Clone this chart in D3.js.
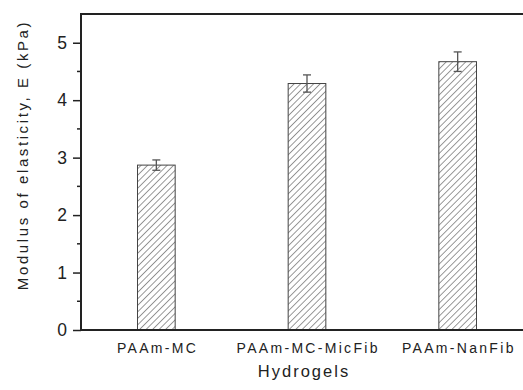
<!DOCTYPE html>
<html><head><meta charset="utf-8">
<script src="https://cdn.jsdelivr.net/npm/d3@7"></script>
<style>html,body{margin:0;padding:0;background:#fff;}svg{display:block;}</style>
</head><body>
<svg id="c" width="523" height="390"></svg>
<script>
const categories = ["PAAm-MC", "PAAm-MC-MicFib", "PAAm-NanFib"];
const values = [2.87, 4.29, 4.67];
const errors = [0.09, 0.15, 0.17];
const yTicks = [0, 1, 2, 3, 4, 5];
const yMinorTicks = [0.5, 1.5, 2.5, 3.5, 4.5];
const yLabel = "Modulus of elasticity, E (kPa)";
const xLabel = "Hydrogels";

(function () {
const svg = d3.select("#c");
const mLeft = 81, mTop = 14, mBottom = 330, mRight = 533;
const font = "Arial, 'Liberation Sans', sans-serif";
const x = d3.scaleBand().domain(categories).range([mLeft, mRight]).paddingInner(0.75).paddingOuter(0.375);
const y = d3.scaleLinear().domain([0, 5.5]).range([mBottom, mTop]);

const defs = svg.append("defs");
const pat = defs.append("pattern").attr("id", "hatch").attr("patternUnits", "userSpaceOnUse")
  .attr("width", 4.6).attr("height", 4.6).attr("patternTransform", "rotate(45)");
pat.append("line").attr("x1", 0).attr("y1", 0).attr("x2", 0).attr("y2", 4.6)
  .attr("stroke", "#333").attr("stroke-width", 1);

const ink = "#222";

svg.selectAll("rect.bar").data(categories).enter().append("rect")
  .attr("x", d => x(d)).attr("width", x.bandwidth())
  .attr("y", (d, i) => y(values[i])).attr("height", (d, i) => y(0) - y(values[i]))
  .attr("fill", "url(#hatch)").attr("stroke", "#444").attr("stroke-width", 1);

const eb = svg.selectAll("g.eb").data(categories).enter().append("g")
  .attr("stroke", "#555").attr("stroke-width", 1.3);
const cx = d => x(d) + x.bandwidth() / 2;
eb.append("line").attr("x1", cx).attr("x2", cx)
  .attr("y1", (d, i) => y(values[i] + errors[i])).attr("y2", (d, i) => y(values[i] - errors[i]));
eb.append("line").attr("x1", d => cx(d) - 4).attr("x2", d => cx(d) + 4)
  .attr("y1", (d, i) => y(values[i] + errors[i])).attr("y2", (d, i) => y(values[i] + errors[i]));
eb.append("line").attr("x1", d => cx(d) - 4).attr("x2", d => cx(d) + 4)
  .attr("y1", (d, i) => y(values[i] - errors[i])).attr("y2", (d, i) => y(values[i] - errors[i]));

const yAxis = svg.append("g").attr("transform", `translate(${mLeft},0)`)
  .call(d3.axisLeft(y).tickValues(yTicks).tickSize(8).tickPadding(6).tickFormat(d3.format("d")));
yAxis.select(".domain").remove();
yAxis.selectAll(".tick line").attr("stroke", ink).attr("stroke-width", 1.5);
yAxis.selectAll(".tick text").attr("font-family", font)
  .attr("font-size", 17.5).attr("fill", "#222");
svg.append("g").selectAll("line").data(yMinorTicks).enter().append("line")
  .attr("x1", mLeft - 4).attr("x2", mLeft).attr("y1", d => y(d)).attr("y2", d => y(d))
  .attr("stroke", ink).attr("stroke-width", 1.5);

svg.append("line").attr("x1", mLeft).attr("x2", mLeft).attr("y1", mTop).attr("y2", mBottom)
  .attr("stroke", ink).attr("stroke-width", 2);
svg.append("line").attr("x1", mLeft - 1).attr("x2", 523).attr("y1", mTop).attr("y2", mTop)
  .attr("stroke", ink).attr("stroke-width", 2);
svg.append("line").attr("x1", mLeft - 1).attr("x2", 523).attr("y1", mBottom).attr("y2", mBottom)
  .attr("stroke", ink).attr("stroke-width", 2);

svg.selectAll("text.xl").data(categories).enter().append("text")
  .attr("x", d => cx(d) + 1.2).attr("y", 352.5)
  .attr("text-anchor", "middle").attr("font-family", font)
  .attr("font-size", 14).attr("letter-spacing", 2.3).attr("fill", "#222").text(d => d);

svg.append("text").attr("x", 304).attr("y", 377).attr("text-anchor", "middle")
  .attr("font-family", font).attr("font-size", 16.5)
  .attr("letter-spacing", 2).attr("fill", "#222").text(xLabel);

svg.append("text").attr("transform", "translate(28,155) rotate(-90)").attr("text-anchor", "middle")
  .attr("font-family", font).attr("font-size", 15)
  .attr("letter-spacing", 2.6).attr("fill", "#222").text(yLabel);
})();
</script>
</body></html>
